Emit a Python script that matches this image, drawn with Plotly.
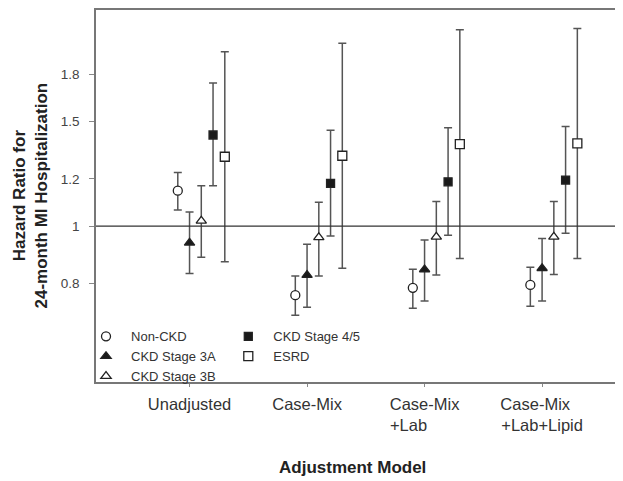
import plotly.graph_objects as go

# ---- data ----
models = ["Unadjusted", "Case-Mix", "Case-Mix +Lab", "Case-Mix +Lab+Lipid"]
tick_labels = ["Unadjusted", "Case-Mix",
               "Case-Mix<br>+Lab" + "\u00a0" * 7,
               "Case-Mix" + "\u00a0" * 3 + "<br>+Lab+Lipid"]

non_ckd = [1.147, 0.765, 0.787, 0.796]
non_ckd_lo = [1.064, 0.708, 0.727, 0.733]
non_ckd_hi = [1.230, 0.824, 0.846, 0.852]

stage3a = [0.937, 0.827, 0.845, 0.849]
stage3a_lo = [0.832, 0.730, 0.748, 0.748]
stage3a_hi = [1.056, 0.932, 0.947, 0.953]

stage3b = [1.020, 0.957, 0.959, 0.959]
stage3b_lo = [0.886, 0.824, 0.827, 0.829]
stage3b_hi = [1.169, 1.097, 1.100, 1.100]

stage45 = [1.423, 1.180, 1.187, 1.195]
stage45_lo = [1.169, 0.962, 0.965, 0.972]
stage45_hi = [1.740, 1.450, 1.464, 1.470]

esrd = [1.308, 1.313, 1.374, 1.378]
esrd_lo = [0.871, 0.849, 0.882, 0.882]
esrd_hi = [1.965, 2.030, 2.140, 2.150]

y_ticks = [0.8, 1, 1.2, 1.5, 1.8]

series = [
    ("Non-CKD", non_ckd, non_ckd_lo, non_ckd_hi, "circle", "white", -0.1, 9, "legend"),
    ("CKD Stage 3A", stage3a, stage3a_lo, stage3a_hi, "triangle-up", "#1a1a1a", 0.0, 9, "legend"),
    ("CKD Stage 3B", stage3b, stage3b_lo, stage3b_hi, "triangle-up", "white", 0.1, 9, "legend"),
    ("CKD Stage 4/5", stage45, stage45_lo, stage45_hi, "square", "#1a1a1a", 0.2, 8, "legend2"),
    ("ESRD", esrd, esrd_lo, esrd_hi, "square", "white", 0.3, 9, "legend2"),
]

fig = go.Figure()

for name, vals, lo, hi, sym, fill, off, size, leg in series:
    xs = [i + 1 + off for i in range(len(models))]
    fig.add_trace(go.Scatter(
        x=xs, y=vals, mode="markers", name=name, legend=leg,
        marker=dict(symbol=sym, size=size, color=fill,
                    line=dict(color="#222222", width=1.3)),
        error_y=dict(type="data", symmetric=False,
                     array=[h - v for h, v in zip(hi, vals)],
                     arrayminus=[v - l for v, l in zip(vals, lo)],
                     color="#555555", thickness=1.5, width=4),
    ))

fig.add_shape(type="line", xref="paper", yref="y", x0=0, x1=1, y0=1, y1=1,
              line=dict(color="#333333", width=1.3))

fig.add_annotation(text="<b>Hazard Ratio for<br>24-month MI Hospitalization</b>",
                   xref="paper", yref="paper", x=-0.1264, y=0.5,
                   xanchor="center", yanchor="middle", textangle=-90,
                   showarrow=False, font=dict(size=17, color="#222222"))
fig.add_annotation(text="<b>Adjustment Model</b>",
                   xref="paper", yref="paper", x=0.4867, y=-0.231,
                   xanchor="center", yanchor="middle",
                   showarrow=False, font=dict(size=17, color="#222222"))

# page body adds an 8px offset, so the figure is 8px smaller on each side
fig.update_layout(
    width=615, height=473,
    margin=dict(l=88, r=1, t=2, b=99, autoexpand=False),
    paper_bgcolor="white", plot_bgcolor="white",
    font=dict(family="Liberation Sans, Arial, sans-serif", color="#333333"),
    legend=dict(x=-0.0285, y=0.163, xanchor="left", yanchor="top",
                bgcolor="rgba(0,0,0,0)", font=dict(size=13, color="#333333"),
                itemwidth=40, tracegroupgap=0),
    legend2=dict(x=0.242, y=0.163, xanchor="left", yanchor="top",
                 bgcolor="rgba(0,0,0,0)", font=dict(size=13, color="#333333"),
                 itemwidth=40, tracegroupgap=0),
)

fig.update_xaxes(
    range=[0.204, 4.68], tickvals=[1, 2, 3, 4], ticktext=tick_labels,
    showgrid=False, zeroline=False, automargin=False,
    showline=True, linecolor="#777777", linewidth=1.5, mirror=True,
    ticks="outside", ticklen=3, tickcolor="#888888", ticklabelstandoff=3,
    tickfont=dict(size=16.5, color="#333333"),
)

fig.update_yaxes(
    type="log", range=[-0.2625, 0.3636],
    tickvals=y_ticks, ticktext=[str(t) for t in y_ticks],
    showgrid=False, zeroline=False, automargin=False,
    showline=True, linecolor="#777777", linewidth=1.5, mirror=False,
    ticks="outside", ticklen=5, tickcolor="#888888", ticklabelstandoff=7,
    tickfont=dict(size=13.5, color="#444444"),
)

fig.write_html("out.html")
